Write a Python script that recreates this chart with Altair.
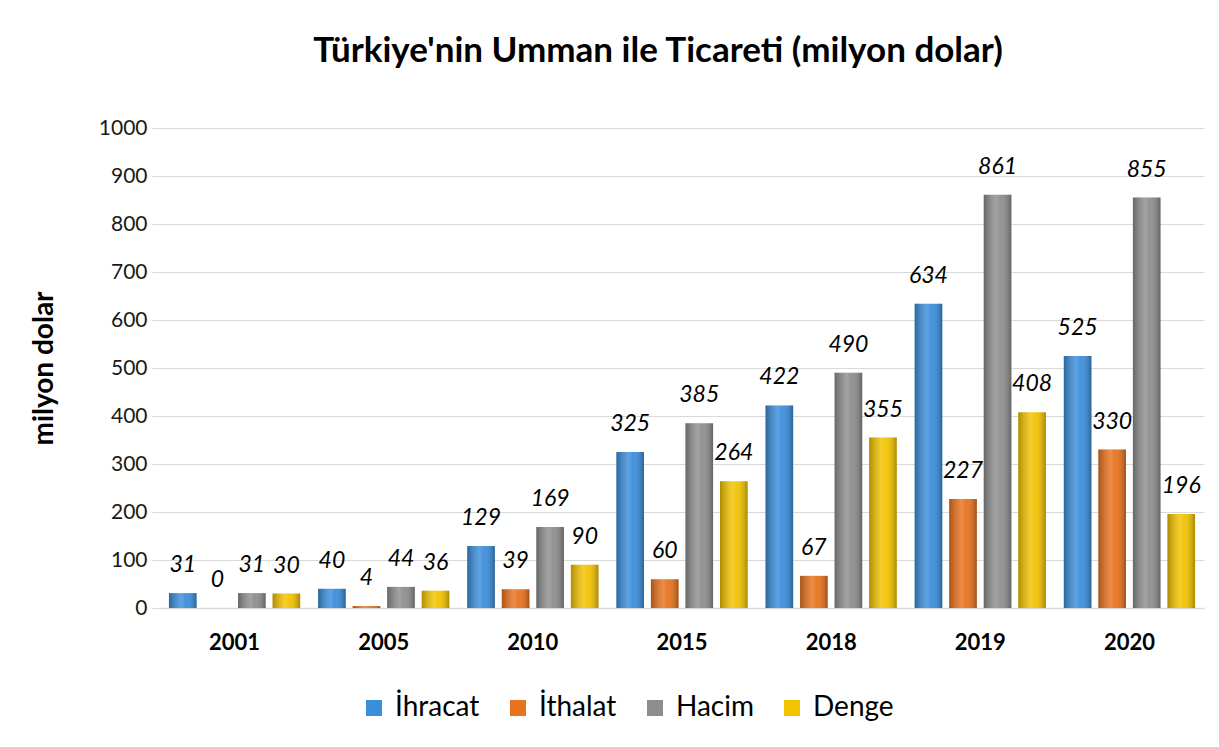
import altair as alt
import pandas as pd

years = ["2001", "2005", "2010", "2015", "2018", "2019", "2020"]
series = ["İhracat", "İthalat", "Hacim", "Denge"]
ihracat = [31, 40, 129, 325, 422, 634, 525]
ithalat = [0, 4, 39, 60, 67, 227, 330]
hacim = [31, 44, 169, 385, 490, 861, 855]
denge = [30, 36, 90, 264, 355, 408, 196]
colors = ["#3B8EDB", "#E8731E", "#8E8E8E", "#F2C300"]

rows = []
for name, vals in zip(series, [ihracat, ithalat, hacim, denge]):
    for y, v in zip(years, vals):
        rows.append({"Yıl": y, "Seri": name, "Değer": v})
df = pd.DataFrame(rows)

FONT = "Lato"

x = alt.X("Yıl:N", sort=years, title=None,
          scale=alt.Scale(paddingInner=0.12, paddingOuter=0.06),
          axis=alt.Axis(labelAngle=0, labelFontWeight="bold", labelFontSize=22,
                        labelColor="#000000", labelPadding=24, ticks=False,
                        domainColor="#D9D9D9", domainWidth=1.5))
y = alt.Y("Değer:Q", title="milyon dolar",
          scale=alt.Scale(domain=[0, 1000]),
          axis=alt.Axis(values=list(range(0, 1001, 100)), format="d",
                        labelFontSize=21, labelColor="#1a1a1a", labelPadding=5,
                        tickSize=8, tickColor="#D9D9D9", domain=False,
                        gridColor="#D9D9D9", gridWidth=1.2, titleFontSize=28,
                        titleFontWeight="bold", titleColor="#000000",
                        titlePadding=40))
xo = alt.XOffset("Seri:N", sort=series, scale=alt.Scale(paddingInner=0.2))

base = alt.Chart(df)

bars = base.mark_bar().encode(
    x=x, y=y, xOffset=xo,
    color=alt.Color("Seri:N", sort=series,
                    scale=alt.Scale(domain=series, range=colors),
                    legend=alt.Legend(title=None, orient="none", direction="horizontal",
                                      legendX=200, legendY=566, labelFontSize=28,
                                      labelColor="#000000", symbolType="square",
                                      symbolSize=256, symbolStrokeWidth=0,
                                      columnPadding=24, labelOffset=7,
                                      symbolOpacity=1)),
)

shade = base.mark_bar(
    color=alt.Gradient(
        gradient="linear", x1=0, x2=1, y1=0, y2=0,
        stops=[
            alt.GradientStop(color="rgba(0,0,0,0.28)", offset=0),
            alt.GradientStop(color="rgba(255,255,255,0.18)", offset=0.45),
            alt.GradientStop(color="rgba(255,255,255,0.05)", offset=0.6),
            alt.GradientStop(color="rgba(0,0,0,0.30)", offset=1),
        ],
    )
).encode(x=x, y=y, xOffset=xo)

labels = base.mark_text(fontStyle="italic", fontSize=23, dy=-28,
                        color="#000000", font=FONT).encode(
    x=x, y=y, xOffset=xo, text=alt.Text("Değer:Q"))

chart = (
    alt.layer(bars, shade, labels)
    .properties(
        width=1044, height=480,
        title=alt.TitleParams("Türkiye'nin Umman ile Ticareti (milyon dolar)",
                              fontSize=35, fontWeight="bold", color="#000000",
                              offset=48, dx=-24, anchor="middle"),
        padding={"left": 22, "top": 26, "right": 5, "bottom": 5},
    )
    .configure(font=FONT)
    .configure_view(stroke=None)
)

chart.save("out.html", embed_options={"renderer": "svg", "actions": False})
